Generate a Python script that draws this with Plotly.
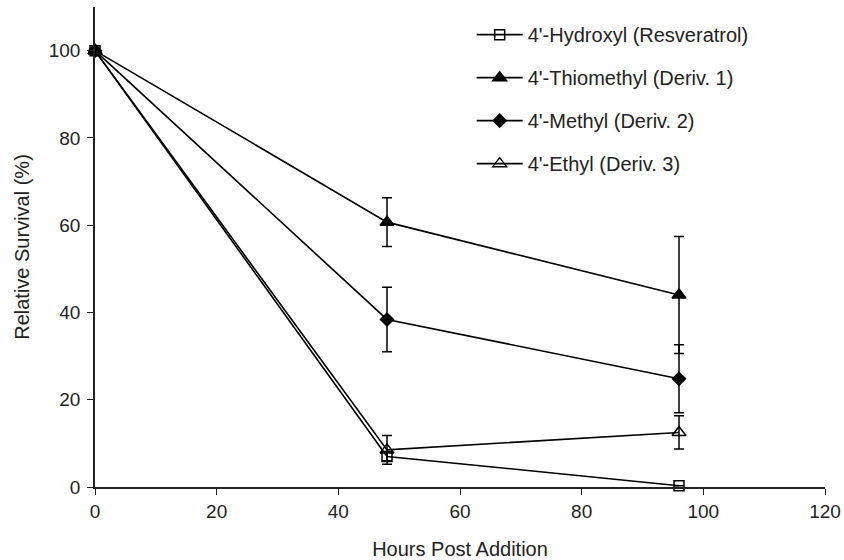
import plotly.graph_objects as go

hours = [0, 48, 96]

names = [
    "4'-Hydroxyl (Resveratrol)",
    "4'-Thiomethyl (Deriv. 1)",
    "4'-Methyl (Deriv. 2)",
    "4'-Ethyl (Deriv. 3)",
]

hydroxyl = [100, 7.0, 0.3]
hydroxyl_err = [None, 1.0, None]

thiomethyl = [100, 60.7, 44.0]
thiomethyl_err = [None, 5.6, 13.4]

methyl = [100, 38.4, 24.8]
methyl_err = [None, 7.4, 7.8]

ethyl = [100, 8.5, 12.5]
ethyl_err = [None, 3.3, 3.8]

x_ticks = [0, 20, 40, 60, 80, 100, 120]
y_ticks = [0, 20, 40, 60, 80, 100]

series = [
    (names[0], hydroxyl, hydroxyl_err, "square-open", 10),
    (names[1], thiomethyl, thiomethyl_err, "triangle-up", 12),
    (names[2], methyl, methyl_err, "diamond", 10),
    (names[3], ethyl, ethyl_err, "triangle-up-open", 12),
]

fig = go.Figure()
for i, (nm, vals, err, sym, sz) in enumerate(series):
    fig.add_trace(go.Scatter(
        x=hours, y=vals, name=nm, mode="lines+markers",
        line=dict(color="black", width=1.6),
        marker=dict(symbol=sym, size=sz, color="black",
                    line=dict(color="black", width=1.5)),
        error_y=dict(type="data", array=err, visible=True,
                     color="black", thickness=1.5, width=5),
        cliponaxis=False,
        legendgroup=f"g{i}",
    ))

font_family = "Liberation Sans, Arial, sans-serif"

fig.update_layout(
    width=844, height=560,
    margin=dict(l=95, r=19, t=7, b=73, autoexpand=False),
    paper_bgcolor="white", plot_bgcolor="white",
    font=dict(family=font_family, size=19, color="#222"),
    showlegend=True,
    legend=dict(
        x=0.516, y=0.983, xanchor="left", yanchor="top",
        bgcolor="rgba(0,0,0,0)", tracegroupgap=14,
        font=dict(size=20, family=font_family, color="#222"),
        itemwidth=46,
    ),
    xaxis=dict(
        range=[0, 120], tickvals=x_ticks, showline=True, linecolor="#222",
        linewidth=1.5, ticks="outside", ticklen=6, tickcolor="#222",
        showgrid=False, zeroline=False, automargin=False,
        tickfont=dict(size=19), ticklabelstandoff=0,
        title=dict(text="Hours Post Addition", standoff=22,
                   font=dict(size=20)),
    ),
    yaxis=dict(
        range=[0, 110], tickvals=y_ticks, showline=True, linecolor="#222",
        linewidth=1.5, ticks="outside", ticklen=6, tickcolor="#222",
        showgrid=False, zeroline=False, automargin=False,
        tickfont=dict(size=19), ticklabelstandoff=3,
        title=dict(text="Relative Survival (%)", standoff=14,
                   font=dict(size=20)),
    ),
)

fig.write_html(
    "out.html",
    config={"displayModeBar": False},
    post_script="document.body.style.margin='0px';",
)
